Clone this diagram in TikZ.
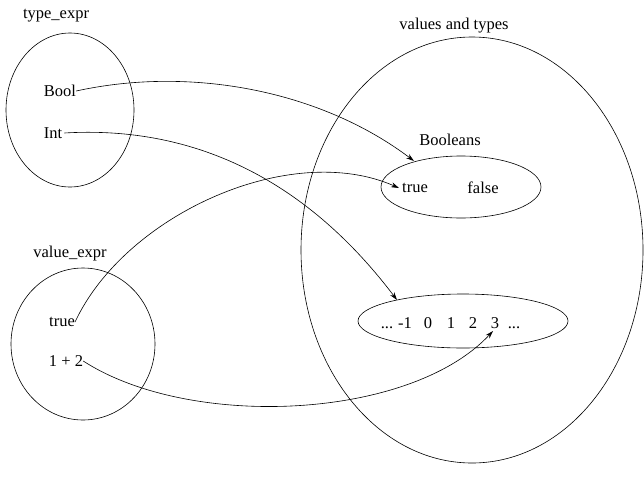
\documentclass[tikz,border=0pt]{standalone}
\usepackage{fontspec}
\setmainfont{Liberation Serif}
\usetikzlibrary{shapes.geometric,arrows.meta}
\begin{document}
\begin{tikzpicture}[x=1pt,y=-1pt,
  blob/.style={draw,line width=0.6pt},
  lbl/.style={inner sep=0pt,font=\fontsize{16.5}{19}\selectfont},
  num/.style={lbl,anchor=base},
  conn/.style={line width=0.6pt,-{Stealth[length=8pt,width=5pt]}}]
\useasboundingbox (0,0) rectangle (644,490);
% ellipses
\draw[blob] (70,110) ellipse [x radius=64, y radius=77];
\draw[blob] (83,344) ellipse [x radius=72, y radius=76];
\draw[blob] (472,250) ellipse [x radius=171, y radius=213];
\draw[blob] (461,187) ellipse [x radius=80, y radius=31];
\draw[blob] (463,321) ellipse [x radius=105, y radius=27];
% labels
\node[lbl] (typeexpr) at (56,16) {type\_expr};
\node[lbl] (bool) at (60,91) {Bool};
\node[lbl] (int) at (53,133) {Int};
\node[lbl] (valueexpr) at (70,254) {value\_expr};
\node[lbl] (vtrue) at (62,322) {true};
\node[lbl] (onetwo) at (66,361) {1 + 2};
\node[lbl] (vat) at (454,26) {values and types};
\node[lbl] (booleans) at (450,140) {Booleans};
\node[lbl] (btrue) at (415,188) {true};
\node[lbl] (bfalse) at (483,188) {false};
\node[num] (ldots) at (387,328) {{.}{.}{.}};
\node[num] (m1) at (405,328) {-1};
\node[num] (n0) at (428,328) {0};
\node[num] (n1) at (451,328) {1};
\node[num] (n2) at (473,328) {2};
\node[num] (n3) at (495,328) {3};
\node[num] (rdots) at (514,328) {{.}{.}{.}};
\coordinate (boolin) at (414,161);
\coordinate (intin) at (397,300);
\coordinate (three) at (493,331);
% connectors
\draw[conn] (bool.east) .. controls (190,66) and (320,90) .. (boolin);
\draw[conn] ([xshift=2pt]int.east) .. controls (200,125) and (310,185) .. (intin);
\draw[conn] (vtrue.east) .. controls (125,215) and (290,140) .. ([xshift=-3pt]btrue.west);
\draw[conn] (onetwo.east) .. controls (190,430) and (410,420) .. (three);
\end{tikzpicture}
\end{document}
